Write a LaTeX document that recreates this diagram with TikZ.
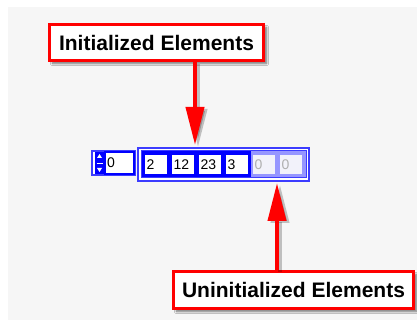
\documentclass[tikz,border=0pt]{standalone}
\usepackage{fontspec}
\setmainfont{Liberation Sans}
\usetikzlibrary{arrows.meta,shadows.blur}
\definecolor{bggray}{HTML}{F6F6F6}
\definecolor{lvblue}{RGB}{0,0,255}
\definecolor{framblue}{RGB}{60,60,255}
\definecolor{lightlv}{RGB}{150,150,255}
\definecolor{ghost}{RGB}{175,175,175}
\definecolor{ghostcell}{RGB}{242,242,250}
\tikzset{
  callout/.style={draw=red, line width=3pt, fill=white, font=\bfseries\fontsize{21}{21}\selectfont,
    inner sep=0pt, blur shadow={shadow xshift=3pt, shadow yshift=-3pt, shadow blur steps=6, shadow opacity=55}},
  redarrow/.style={draw=red, line width=4pt, -{Triangle[width=18pt,length=38pt]}},
  shadowarrow/.style={draw=black, opacity=0.22, line width=4pt, -{Triangle[width=18pt,length=38pt]}},
  cell/.style={fill=white, draw=none, minimum width=22pt, minimum height=19pt, inner sep=0pt,
    font=\fontsize{14}{14}\selectfont, text depth=0pt, align=left, text width=19pt},
  ghostcellst/.style={cell, fill=ghostcell, text=ghost},
}
\begin{document}
\begin{tikzpicture}[x=1pt,y=-1pt]
\useasboundingbox (0,0) rectangle (417,320);
\fill[white] (0,0) rectangle (417,320);
\fill[bggray] (8,7) rectangle (417,320);

% index control
\node[draw=framblue, line width=1.2pt, fill=white, minimum width=43pt, minimum height=24pt, inner sep=0pt] (index) at (113.5,163) {};
\fill[lvblue] (95,152) rectangle (104,174);
\fill[white] (99.5,154) -- (102,158) -- (97,158) -- cycle;
\fill[white] (99.5,172) -- (102,168) -- (97,168) -- cycle;
\draw[white, line width=0.8pt] (96.5,163) -- (102.5,163);
\node[draw=lvblue, line width=1.5pt, fill=white, minimum width=29pt, minimum height=22pt, inner sep=0pt,
  font=\fontsize{14}{14}\selectfont, text width=25pt, align=left] (idxval) at (119.5,163) {0};

% array frame
\node[draw=framblue, line width=1.2pt, fill=white, minimum width=171pt, minimum height=33pt, inner sep=0pt] (array) at (223.5,164.5) {};
\fill[lvblue] (141,151) rectangle (251,178);
\fill[lightlv] (251,151) rectangle (306,178);
\draw[framblue, line width=1pt] (141,151) rectangle (306,178);

% cells
\node[cell] (c1) at (156,164.5) {2};
\node[cell] (c2) at (183,164.5) {12};
\node[cell] (c3) at (210,164.5) {23};
\node[cell] (c4) at (237,164.5) {3};
\node[ghostcellst] (c5) at (264,164.5) {0};
\node[ghostcellst] (c6) at (291,164.5) {0};

% callouts
\node[callout, minimum width=214pt, minimum height=36pt] (init) at (156.5,42.5) {Initialized Elements};
\node[callout, minimum width=240pt, minimum height=37pt] (uninit) at (293.5,290) {Uninitialized Elements};

\coordinate (tip1) at (195,145);
\coordinate (tip2) at (277,183);

% arrow shadows
\draw[shadowarrow] ([xshift=3pt,yshift=-2pt]init.south -| tip1) -- ([xshift=3pt,yshift=-2pt]tip1);
\draw[shadowarrow] ([xshift=3pt,yshift=-2pt]uninit.north -| tip2) -- ([xshift=3pt,yshift=-2pt]tip2);
% arrows
\draw[redarrow] (init.south -| tip1) -- (tip1);
\draw[redarrow] (uninit.north -| tip2) -- (tip2);
\end{tikzpicture}
\end{document}
